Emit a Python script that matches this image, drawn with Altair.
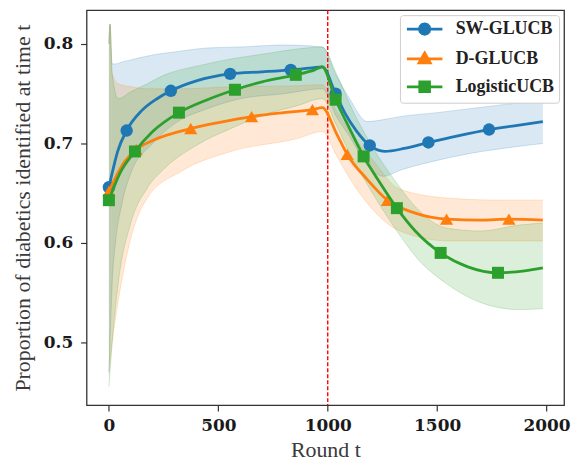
import altair as alt
import pandas as pd

SERIES = ["SW-GLUCB", "D-GLUCB", "LogisticUCB"]
COLORS = ["#1f77b4", "#ff7f0e", "#2ca02c"]

# mean curves
SW_X = [0, 20, 40, 81, 150, 220, 283, 400, 554, 700, 831, 930, 975, 1036, 1080, 1130, 1192, 1260, 1350, 1460, 1600, 1737, 1860, 1983]
SW_Y = [0.656, 0.675, 0.692, 0.713, 0.733, 0.745, 0.753, 0.763, 0.770, 0.772, 0.774, 0.776, 0.777, 0.750, 0.730, 0.713, 0.698, 0.692, 0.695, 0.701, 0.708, 0.714, 0.718, 0.722]
D_X = [0, 73, 125, 200, 374, 500, 652, 800, 930, 975, 1040, 1089, 1180, 1273, 1400, 1543, 1700, 1828, 1983]
D_Y = [0.652, 0.682, 0.694, 0.703, 0.715, 0.721, 0.727, 0.731, 0.734, 0.736, 0.710, 0.689, 0.664, 0.643, 0.630, 0.624, 0.623, 0.624, 0.623]
L_X = [0, 50, 119, 200, 320, 450, 576, 700, 854, 940, 975, 1036, 1100, 1164, 1240, 1316, 1400, 1516, 1640, 1778, 1900, 1983]
L_Y = [0.643, 0.670, 0.692, 0.712, 0.731, 0.744, 0.754, 0.762, 0.769, 0.774, 0.777, 0.744, 0.715, 0.687, 0.660, 0.635, 0.612, 0.590, 0.576, 0.570, 0.572, 0.575]

# marker positions
SW_MX = [0, 81, 283, 554, 831, 1036, 1192, 1460, 1737]
SW_MY = [0.656, 0.713, 0.753, 0.770, 0.774, 0.750, 0.698, 0.701, 0.714]
D_MX = [0, 125, 374, 652, 930, 1089, 1273, 1543, 1828]
D_MY = [0.652, 0.694, 0.715, 0.727, 0.734, 0.689, 0.643, 0.624, 0.624]
L_MX = [0, 119, 320, 576, 854, 1036, 1164, 1316, 1516, 1778]
L_MY = [0.643, 0.692, 0.731, 0.754, 0.769, 0.744, 0.687, 0.635, 0.590, 0.570]

# confidence bands
SW_BX = [0, 5, 15, 30, 60, 100, 200, 300, 450, 600, 800, 975, 1040, 1100, 1180, 1255, 1330, 1500, 1650, 1800, 1983]
SW_LO = [0.47, 0.50, 0.56, 0.60, 0.64, 0.67, 0.70, 0.72, 0.735, 0.745, 0.75, 0.755, 0.727, 0.707, 0.678, 0.667, 0.673, 0.683, 0.690, 0.695, 0.700]
SW_HI = [0.80, 0.82, 0.78, 0.78, 0.782, 0.784, 0.789, 0.792, 0.796, 0.797, 0.799, 0.797, 0.768, 0.745, 0.722, 0.724, 0.727, 0.731, 0.735, 0.739, 0.743]
D_BX = [0, 5, 15, 43, 104, 175, 331, 558, 861, 975, 1040, 1100, 1200, 1330, 1557, 1800, 1983]
D_LO = [0.47, 0.48, 0.50, 0.542, 0.608, 0.645, 0.672, 0.692, 0.705, 0.712, 0.688, 0.665, 0.635, 0.612, 0.602, 0.602, 0.602]
D_HI = [0.80, 0.82, 0.77, 0.76, 0.757, 0.755, 0.755, 0.757, 0.758, 0.759, 0.733, 0.712, 0.685, 0.654, 0.645, 0.643, 0.643]
L_BX = [0, 5, 15, 43, 100, 175, 255, 407, 558, 710, 861, 975, 1040, 1100, 1164, 1316, 1407, 1543, 1700, 1875, 1983]
L_LO = [0.455, 0.47, 0.50, 0.56, 0.62, 0.655, 0.675, 0.699, 0.715, 0.729, 0.738, 0.745, 0.718, 0.69, 0.665, 0.612, 0.585, 0.559, 0.54, 0.533, 0.534]
L_HI = [0.80, 0.82, 0.77, 0.745, 0.752, 0.76, 0.769, 0.778, 0.785, 0.79, 0.795, 0.797, 0.77, 0.74, 0.712, 0.66, 0.635, 0.615, 0.612, 0.618, 0.62]

VLINE_X = [1000]
X_TICKS = [0, 500, 1000, 1500, 2000]
Y_TICKS = [0.5, 0.6, 0.7, 0.8]

# legend glyphs: line segment + marker (custom symbol paths)
LEGEND_PATHS = [
    "M-1,0H4.1M2.3,0L2.2,0.375L1.925,0.65L1.55,0.75L1.175,0.65L0.9,0.375L0.8,0"
    "L0.9,-0.375L1.175,-0.65L1.55,-0.75L1.925,-0.65L2.2,-0.375Z",
    "M-1,0H4.1M1.55,-0.85L2.35,0.55L0.75,0.55Z",
    "M-1,0H4.1M0.85,-0.7H2.25V0.7H0.85Z",
]
MARKER_SHAPES = ["circle", "triangle-up", "square"]
MARKER_SIZES = [155, 175, 145]

lines = {s: pd.DataFrame({"x": xs, "y": ys, "series": s}) for s, xs, ys in
         [(SERIES[0], SW_X, SW_Y), (SERIES[1], D_X, D_Y), (SERIES[2], L_X, L_Y)]}
marks = {s: pd.DataFrame({"x": xs, "y": ys, "series": s}) for s, xs, ys in
         [(SERIES[0], SW_MX, SW_MY), (SERIES[1], D_MX, D_MY), (SERIES[2], L_MX, L_MY)]}
bands = {s: pd.DataFrame({"x": xs, "lo": lo, "hi": hi, "series": s}) for s, xs, lo, hi in
         [(SERIES[0], SW_BX, SW_LO, SW_HI), (SERIES[1], D_BX, D_LO, D_HI), (SERIES[2], L_BX, L_LO, L_HI)]}
all_marks = pd.concat(list(marks.values()))
vline = pd.DataFrame({"x": VLINE_X})

xscale = alt.Scale(domain=[-102, 2080], nice=False, zero=False)
yscale = alt.Scale(domain=[0.437, 0.834], nice=False, zero=False)

x_axis = alt.Axis(values=X_TICKS, format="d", title="Round t",
                  titleFont="Liberation Serif", titleFontSize=22, titleFontWeight="normal",
                  titleColor="#3a3a3a", titlePadding=6,
                  labelFont="DejaVu Serif", labelFontWeight="bold", labelFontSize=17,
                  labelColor="#1a1a1a", labelPadding=7, labelFlush=False,
                  tickSize=6, tickWidth=1.2, tickColor="#333", domain=False, grid=False)
y_axis = alt.Axis(values=Y_TICKS, format=".1f", title="Proportion of diabetics identified at time t",
                  titleFont="Liberation Serif", titleFontSize=22, titleFontWeight="normal",
                  titleColor="#3a3a3a", titlePadding=9,
                  labelFont="DejaVu Serif", labelFontWeight="bold", labelFontSize=17,
                  labelColor="#1a1a1a", labelPadding=8, labelFlush=False,
                  tickSize=6, tickWidth=1.2, tickColor="#333", domain=False, grid=False)

X = alt.X("x:Q", scale=xscale, axis=x_axis)
Y = alt.Y("y:Q", scale=yscale, axis=y_axis)
YLO = alt.Y("lo:Q", scale=yscale, axis=y_axis)
YHI = alt.Y("hi:Q", scale=yscale, axis=y_axis)

layers = []
for i, s in enumerate(SERIES):
    col = COLORS[i]
    layers.append(alt.Chart(bands[s]).mark_area(opacity=0.17, interpolate="monotone", color=col).encode(
        x=X, y=YLO, y2="hi:Q"))
    layers.append(alt.Chart(bands[s]).mark_line(opacity=0.2, strokeWidth=1, interpolate="monotone", color=col).encode(
        x=X, y=YLO))
    layers.append(alt.Chart(bands[s]).mark_line(opacity=0.2, strokeWidth=1, interpolate="monotone", color=col).encode(
        x=X, y=YHI))

layers.append(alt.Chart(vline).mark_rule(color="#ff0000", strokeWidth=1.4, strokeDash=[4, 2]).encode(x=X))

for i, s in enumerate(SERIES):
    col = COLORS[i]
    layers.append(alt.Chart(lines[s]).mark_line(strokeWidth=2.8, interpolate="monotone", color=col).encode(
        x=X, y=Y))
    layers.append(alt.Chart(marks[s]).mark_point(filled=True, opacity=1, shape=MARKER_SHAPES[i],
                                                 size=MARKER_SIZES[i], color=col).encode(x=X, y=Y))

leg = alt.Legend(title=None, orient="none", legendX=315, legendY=5,
                 fillColor="white", strokeColor="#cccccc", cornerRadius=3, padding=5,
                 labelFont="Liberation Serif", labelFontWeight="bold", labelFontSize=18,
                 labelColor="#222222", labelOffset=33, symbolSize=196, symbolStrokeWidth=2.8,
                 symbolOpacity=1, rowPadding=7)
legend_layer = alt.Chart(all_marks).mark_point(
    filled=True, strokeWidth=2.8, opacity=0).encode(
    x=X, y=Y,
    fill=alt.Fill("series:N", scale=alt.Scale(domain=SERIES, range=COLORS), legend=leg),
    stroke=alt.Stroke("series:N", scale=alt.Scale(domain=SERIES, range=COLORS), legend=leg),
    shape=alt.Shape("series:N", scale=alt.Scale(domain=SERIES, range=LEGEND_PATHS), legend=leg),
)
layers.append(legend_layer)

chart = alt.layer(*layers).properties(
    width=480, height=397,
    padding={"left": 3, "top": 0, "right": 5, "bottom": 0},
).configure_view(stroke="#333333", strokeWidth=1.3)

chart.save("out.html", embed_options={"renderer": "svg", "actions": False})
